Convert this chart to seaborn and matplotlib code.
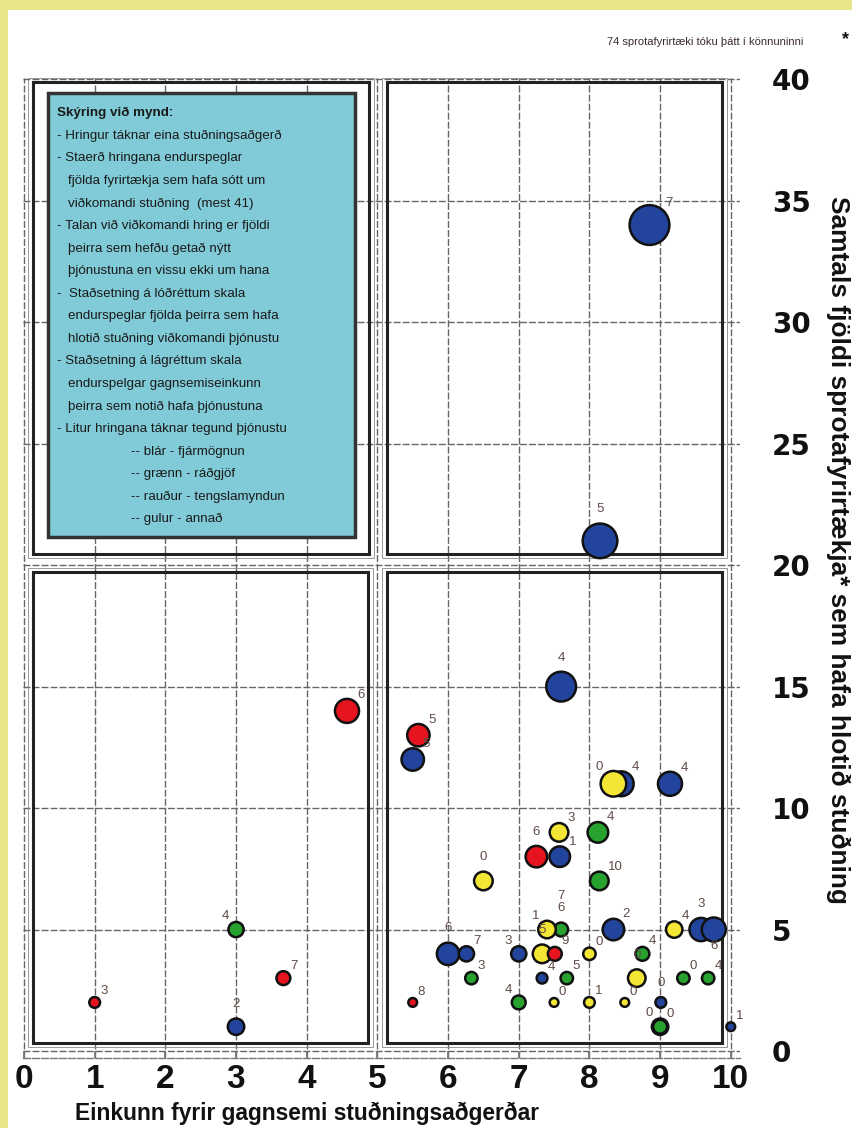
import matplotlib
matplotlib.use("Agg")
import matplotlib.pyplot as plt
import seaborn as sns
import pandas as pd
import numpy as np
from matplotlib import font_manager
from matplotlib.patches import Rectangle

# ---------------- data ----------------
x_vals = [8.85, 8.15, 7.6, 5.5, 8.45, 9.14, 7.58, 8.34, 9.58, 9.76, 6.0, 6.26, 7.0, 7.33, 9.01, 10.0, 3.0,
          8.12, 8.14, 7.6, 8.75, 6.33, 7.68, 9.33, 9.68, 7.0, 9.0, 9.0, 3.0,
          8.34, 7.57, 6.5, 7.4, 9.2, 7.33, 8.0, 8.67, 7.5, 8.0, 8.5,
          4.57, 5.58, 7.25, 7.51, 3.67, 1.0, 5.5]
y_vals = [34, 21, 15, 12, 11, 11, 8, 5, 5, 5, 4, 4, 4, 3, 2, 1, 1,
          9, 7, 5, 4, 3, 3, 3, 3, 2, 1, 1, 5,
          11, 9, 7, 5, 5, 4, 4, 3, 2, 2, 2,
          14, 13, 8, 4, 3, 2, 2]
applied = [41, 31, 23, 13, 16, 15, 11, 12, 14, 15, 13, 6, 6, 3, 3, 2, 7,
           11, 9, 5, 5, 4, 4, 4, 4, 5, 7, 5, 6,
           17, 9, 9, 8, 7, 9, 4, 8, 2, 3, 2,
           15, 13, 12, 5, 5, 3, 2]
service = (["blár"] * 17 + ["grænn"] * 12 + ["gulur"] * 11 + ["rauður"] * 7)
unaware = ["7", "5", "4", "5", "4", "4", "1", "2", "3", "6", "6", "7", "3", "4", "0", "1", "2",
           "4", "10", "6", "4", "3", "5", "0", "4", "4", "0", "0", "4",
           "0", "3", "0", "1", "4", "5", "0", "0", "0", "1", "0",
           "6", "5", "6", "9", "7", "3", "8"]
extra_labels = [("7", 7.6, 6.15)]

x_ticks = list(range(0, 11))
y_ticks = list(range(0, 41, 5))

legend_lines = [
    "Skýring við mynd:",
    "- Hringur táknar eina stuðningsaðgerð",
    "- Staerð hringana endurspeglar",
    "  fjölda fyrirtækja sem hafa sótt um",
    "  viðkomandi stuðning  (mest 41)",
    "- Talan við viðkomandi hring er fjöldi",
    "  þeirra sem hefðu getað nýtt",
    "  þjónustuna en vissu ekki um hana",
    "-  Staðsetning á lóðréttum skala",
    "  endurspeglar fjölda þeirra sem hafa",
    "  hlotið stuðning viðkomandi þjónustu",
    "- Staðsetning á lágréttum skala",
    "  endurspelgar gagnsemiseinkunn",
    "  þeirra sem notið hafa þjónustuna",
    "- Litur hringana táknar tegund þjónustu",
    "-- blár - fjármögnun",
    "-- grænn - ráðgjöf",
    "-- rauður - tengslamyndun",
    "-- gulur - annað",
]

# label placement style (ur = upper right, u = above, ul = upper left, d = below)
label_pos = ["ur", "u", "u", "ur", "ur", "ur", "ur", "ur", "u", "d", "u", "ur", "ul", "ur", "u", "ur", "u",
             "ur", "ur", "u", "ur", "ur", "ur", "ur", "ur", "ul", "ul", "ur", "ul",
             "ul", "ur", "u", "ul", "ur", "u", "ur", "u", "ur", "ur", "ur",
             "ur", "ur", "u", "ur", "ur", "ur", "ur"]

df = pd.DataFrame({"x": x_vals, "y": y_vals, "applied": applied,
                   "service": service, "label": unaware})

# ---------------- fonts ----------------
sns.set_theme(style="white")
plt.rcParams['font.family'] = ['Liberation Sans', 'DejaVu Sans']


def has_font(name):
    try:
        font_manager.findfont(font_manager.FontProperties(family=name),
                              fallback_to_default=False)
        return True
    except Exception:
        return False


NARROW = 'Liberation Sans Narrow' if has_font('Liberation Sans Narrow') else 'Liberation Sans'
narrow_scale = 1.0 if NARROW == 'Liberation Sans Narrow' else 0.84

# ---------------- figure ----------------
W, H = 852, 1128
fig = plt.figure(figsize=(W / 100, H / 100), dpi=100)
fig.patch.set_facecolor('#e8e68a')
fig.add_artist(Rectangle((8 / W, 0), 1, (H - 10) / H, transform=fig.transFigure,
                         facecolor='white', edgecolor='none', zorder=-10))

ax = fig.add_axes([0.0265, 0.0618, 0.842, 0.869])
ax.set_facecolor('none')
ax.set_xlim(-0.02, 10.13)
ax.set_ylim(-0.3, 40.05)

palette = {"blár": "#22449c", "grænn": "#27a22e", "gulur": "#f4e634", "rauður": "#e6141e"}
SMAX = 820
sns.scatterplot(data=df, x="x", y="y", hue="service", size="applied",
                sizes=(0, SMAX), size_norm=(0, 41), palette=palette,
                edgecolor="#111111", linewidth=1.8, alpha=1, legend=False,
                ax=ax, zorder=5)

# bubble labels
for i, row in df.iterrows():
    r = np.sqrt(SMAX * row["applied"] / 41) / 2 + 0.9
    p = label_pos[i]
    if p == "ur":
        xy, ha, va = (r * 0.72 + 0.5, r * 0.72 + 0.5), "left", "bottom"
    elif p == "ul":
        xy, ha, va = (-(r * 0.72 + 0.5), r * 0.72 + 0.5), "right", "bottom"
    elif p == "u":
        xy, ha, va = (0, r + 5), "center", "bottom"
    else:
        xy, ha, va = (0, -(r - 2)), "center", "top"
    ax.annotate(row["label"], (row["x"], row["y"]), xytext=xy, textcoords="offset points",
                ha=ha, va=va, fontsize=9.5, color="#5e4c46", zorder=6)
for t, lx, ly in extra_labels:
    ax.text(lx, ly, t, ha="center", va="bottom", fontsize=9.5, color="#5e4c46", zorder=6)

# quadrant frames
boxes = [(0.13, 20.45, 4.75, 19.45), (5.14, 20.45, 4.74, 19.45),
         (0.13, 0.33, 4.74, 19.38), (5.14, 0.33, 4.74, 19.38)]
for bx, by, bw, bh in boxes:
    ax.add_patch(Rectangle((bx, by), bw, bh, fill=False, edgecolor="#222222",
                           linewidth=2.2, zorder=3))
    ax.add_patch(Rectangle((bx - 0.07, by - 0.17), bw + 0.14, bh + 0.34, fill=False,
                           edgecolor="#888888", linewidth=0.6, zorder=3))

# legend box
ax.add_patch(Rectangle((0.344, 21.16), 4.34, 18.28, facecolor="#80cbd7",
                       edgecolor="#333333", linewidth=2.5, zorder=4))
for i, line in enumerate(legend_lines):
    py = 113.3 + 22.55 * i
    if i == 0:
        px, fw = 57, "bold"
    elif i >= 15:
        px, fw = 131, "normal"
    elif line.startswith("  "):
        px, fw = 68, "normal"
    else:
        px, fw = 57, "normal"
    fig.text(px / W, 1 - py / H, line.strip() if i >= 15 or line.startswith("  ") else line,
             ha="left", va="center", fontsize=9.6, fontweight=fw, color="#1a1a1a",
             zorder=10)

# grid & axes
ax.set_xticks(x_ticks)
ax.set_yticks(y_ticks)
ax.set_axisbelow(True)
ax.grid(True, color="#666666", linestyle=(0, (5, 1.5)), linewidth=1.0)
for s in ["top", "right", "left"]:
    ax.spines[s].set_visible(False)
ax.spines["bottom"].set_color("#777777")
ax.spines["bottom"].set_linestyle((0, (5, 1.5)))
ax.spines["bottom"].set_linewidth(1.0)
ax.tick_params(axis="x", direction="in", length=5, color="#777777", bottom=True, pad=4)
ax.yaxis.tick_right()
ax.tick_params(axis="y", length=0, pad=23)
ax.set_xticklabels([str(v) for v in x_ticks], fontsize=24,
                   fontweight="bold", family=NARROW, color="#111111")
ax.set_yticklabels([str(v) for v in y_ticks], fontsize=20, fontweight="bold",
                   family="DejaVu Sans", color="#111111")
for lab in ax.get_yticklabels():
    lab.set_horizontalalignment("left")
ax.set_xlabel("")
ax.set_ylabel("")

fig.text(75 / W, 1 - 1113 / H, "Einkunn fyrir gagnsemi stuðningsaðgerðar",
         ha="left", va="center", fontsize=19.5 * narrow_scale, fontweight="bold",
         family=NARROW, color="#111111")
fig.text(838 / W, 1 - 550 / H, "Samtals fjöldi sprotafyrirtækja* sem hafa hlotið stuðning",
         ha="center", va="center", rotation=270, fontsize=22.5 * narrow_scale,
         fontweight="bold", family=NARROW, color="#111111")
fig.text(705 / W, 1 - 42 / H, "74 sprotafyrirtæki tóku þátt í könnuninni",
         ha="center", va="center", fontsize=8, family=NARROW, color="#3b2a2a")
fig.text(845 / W, 1 - 40 / H, "*", ha="center", va="center", fontsize=13,
         fontweight="bold", color="#111111")

fig.savefig("out.png", dpi=100)
